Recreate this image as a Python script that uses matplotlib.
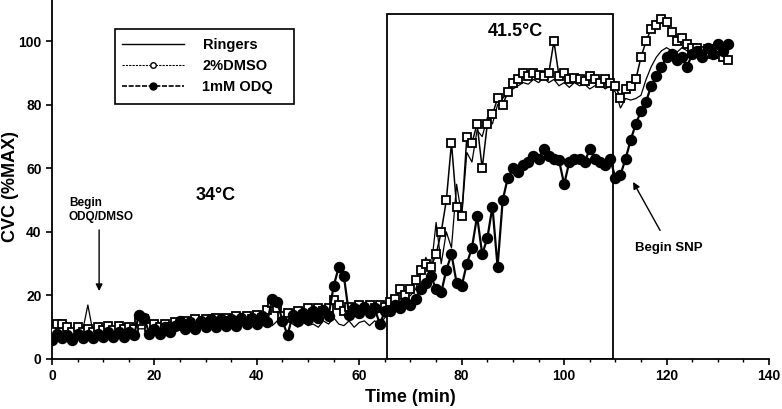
import matplotlib
matplotlib.use("Agg")
import matplotlib.pyplot as plt
from matplotlib.lines import Line2D
from matplotlib.patches import Rectangle

plt.rcParams['font.family'] = ['Liberation Sans', 'DejaVu Sans']
plt.rcParams['font.weight'] = 'bold'

time_min = list(range(0, 133))

cvc_ringers = [
    8, 8.5, 8, 8.5, 8, 8.5, 9, 17, 8.5, 8.5,
    9, 9, 9, 9, 9.5, 9, 9.5, 9.5, 9.5, 10,
    9.5, 10, 10, 10, 10.5, 10.5, 11, 11, 11.5, 11,
    10.5, 11.5, 11, 12, 10.5, 11.5, 11, 10.5, 12, 11,
    11.5, 11, 12, 10.5, 12, 11, 12.5, 11, 10, 11.5,
    10.5, 11, 10, 12, 11, 13, 11, 10.5, 12, 10,
    11.5, 12, 10.5, 12, 11, 13, 15, 17, 16, 19,
    20, 22, 27, 32, 28, 43, 30, 40, 35, 55,
    45, 65, 62, 72, 70, 76, 74, 80, 82, 84,
    85, 86, 87, 86.5, 88, 87, 88.5, 87, 88, 86,
    87, 85.5, 87, 86, 86.5, 85, 86, 86.5, 85, 86,
    84, 79, 82, 81.5, 82, 83, 88, 92, 95, 97,
    98, 97, 96.5, 98, 97, 96, 97.5, 96, 97, 96,
    96.5, 95, 95.5,
]

cvc_dmso = [
    9, 11, 11, 10, 8.5, 10, 8.5, 9.5, 8.5, 10,
    9, 10.5, 9, 10.5, 9.5, 10, 9.5, 12, 12.5, 10,
    11, 10, 11, 10, 11.5, 10.5, 12, 11, 12.5, 11,
    12.5, 11.5, 13, 11.5, 13, 12, 13.5, 12, 13.5, 12.5,
    14, 13, 15.5, 17.5, 16, 13.5, 14.5, 13, 15, 14,
    16, 14.5, 16, 15, 16, 18.5, 17, 15, 16.5, 15,
    17, 15.5, 17, 16, 17, 16.5, 18, 19, 22, 20,
    22, 25, 28, 30, 29, 33, 40, 50, 68, 48,
    45, 70, 68, 74, 60, 74, 77, 82, 80, 84,
    87, 88, 90, 89, 90, 89.5, 89, 90, 100, 89,
    90, 88, 88.5, 88, 87.5, 89, 88, 87, 88, 87,
    86, 82, 85, 86, 88, 95, 100, 104, 105, 107,
    106, 103, 100, 101, 99, 98, 98, 97, 97.5, 96,
    97, 95, 94,
]

cvc_odq = [
    6, 8, 6.5, 7.5, 6, 8, 6.5, 7.5, 6.5, 8,
    7, 8.5, 7, 8.5, 7, 8.5, 7.5, 14, 13, 8,
    9.5, 8, 10, 8.5, 10.5, 12, 9.5, 11.5, 9.5, 12,
    10, 12.5, 10, 12.5, 10.5, 12.5, 10.5, 13, 11, 13,
    11, 13.5, 11.5, 19, 18, 12, 7.5, 14, 12, 14.5,
    12.5, 15, 13, 15.5, 13.5, 23, 29, 26, 14, 16,
    14.5, 16.5, 14.5, 16, 11, 15, 15, 17, 16, 18,
    17, 19, 22, 24, 26, 22, 21, 28, 33, 24,
    23, 30, 35, 45, 33, 38, 48, 29, 50, 57,
    60, 59, 61, 62, 64, 63, 66, 64, 63, 62.5,
    55, 62, 63, 63, 62, 66, 63, 62, 61, 63,
    57, 58, 63, 69, 74, 78, 81, 86, 89, 92,
    95, 96, 94, 95, 92, 96, 97, 95, 98, 96,
    99, 97, 99,
]

legend_labels = ["Ringers", "2%DMSO", "1mM ODQ"]

fig = plt.figure(figsize=(7.82, 4.09), dpi=100)
ax_left, ax_right, ax_bottom = 52, 769, 359
ax_w = ax_right - ax_left
ax = fig.add_axes([ax_left / 782, (409 - ax_bottom) / 409,
                   ax_w / 782, ax_bottom / 409])

ax.plot(time_min, cvc_ringers, color='black', lw=0.9, zorder=3)
ax.plot(time_min, cvc_dmso, color='black', lw=1.1, marker='s', ms=5.2,
        mfc='white', mec='black', mew=1.3, zorder=4)
ax.plot(time_min, cvc_odq, color='black', lw=1.6, marker='o', ms=7.2,
        mfc='black', mec='black', zorder=5)

ax.add_patch(Rectangle((65.5, 0), 44, 108.5, fill=False, ec='black', lw=1.3, zorder=2))

ax.set_xlim(0, 140)
ax.set_ylim(0, 113)
ax.set_xticks(range(0, 141, 20))
ax.set_xticks(range(0, 141, 5), minor=True)
ax.set_yticks(range(0, 101, 20))
ax.spines['top'].set_visible(False)
ax.spines['right'].set_visible(False)
ax.spines['left'].set_linewidth(1.3)
ax.spines['bottom'].set_linewidth(1.3)
ax.tick_params(axis='both', which='major', direction='out', length=4, width=1.2,
               labelsize=10)
ax.tick_params(axis='x', which='minor', direction='out', length=2.5, width=1)
for lbl in ax.get_xticklabels() + ax.get_yticklabels():
    lbl.set_fontweight('bold')

ax.set_xlabel("Time (min)", fontsize=13, fontweight='bold', labelpad=4)
ax.set_ylabel("CVC (%MAX)", fontsize=13, fontweight='bold')
ax.yaxis.set_label_coords((19 - ax_left) / ax_w, 0.48)

ax.text(32, 51.5, "34°C", fontsize=13, fontweight='bold', ha='center', va='center')
ax.text(90.5, 103, "41.5°C", fontsize=13, fontweight='bold', ha='center', va='center')
ax.text(3.3, 47, "Begin\nODQ/DMSO", fontsize=8.5, fontweight='bold', ha='left',
        va='center', linespacing=1.2)
ax.annotate("", xy=(9.2, 20.5), xytext=(9.2, 41.5),
            arrowprops=dict(arrowstyle='-|>', color='black', lw=1, mutation_scale=10))
ax.text(113.8, 35, "Begin SNP", fontsize=9.5, fontweight='bold', ha='left', va='center')
ax.annotate("", xy=(113.2, 56.5), xytext=(119, 39.7),
            arrowprops=dict(arrowstyle='-|>', color='black', lw=1, mutation_scale=10))

# legend frame drawn as a box in axes coordinates
ax.add_patch(Rectangle(((115 - ax_left) / ax_w, 1 - 104 / ax_bottom),
                       179 / ax_w, 75 / ax_bottom, transform=ax.transAxes,
                       fill=True, fc='white', ec='black', lw=1.2, zorder=6))

handles = [
    Line2D([], [], color='black', lw=1.0),
    Line2D([], [], color='black', lw=0.8, ls=(0, (2, 1)), marker='o', ms=4,
           mfc='white', mec='black', mew=1),
    Line2D([], [], color='black', lw=1.2, ls=(0, (3, 1)), marker='o', ms=5,
           mfc='black', mec='black'),
]
leg = ax.legend(handles, legend_labels, loc='upper left',
                bbox_to_anchor=((115 - ax_left) / ax_w, 1 - 31 / ax_bottom),
                borderaxespad=0, frameon=False,
                handlelength=4.2, handletextpad=1.3, labelspacing=0.48,
                borderpad=0.5, prop={'weight': 'bold', 'size': 10.5})
leg.set_zorder(7)

fig.savefig("out.png", dpi=100)
